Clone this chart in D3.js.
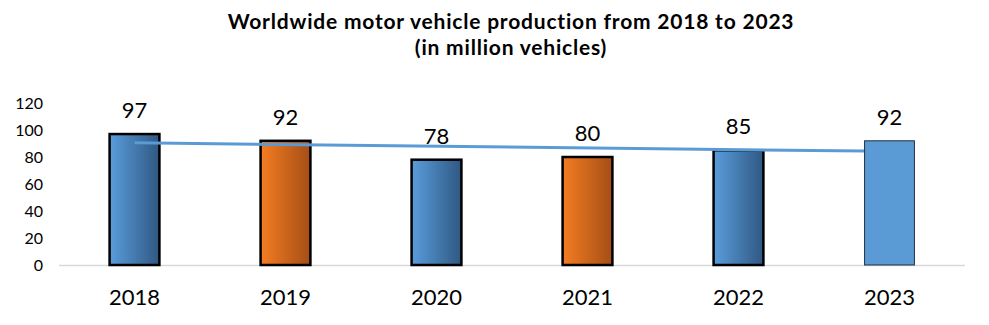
<!DOCTYPE html>
<html><head><meta charset="utf-8">
<script src="https://cdn.jsdelivr.net/npm/d3@7"></script>
<style>body{margin:0;background:#fff}svg{display:block}text{font-family:Lato,"Open Sans",sans-serif}</style>
</head><body><svg id="c" width="989" height="325"></svg>
<script>
const years = ["2018","2019","2020","2021","2022","2023"];
const values = [97, 92, 78, 80, 85, 92];
const styles = ["blue","orange","blue","orange","blue","flat"];
const yTicks = [0,20,40,60,80,100,120];
const trendYears = ["2018","2023"];
const trendValues = [90.5, 84.2];
const titleLines = ["Worldwide motor vehicle production from 2018 to 2023","(in million vehicles)"];

const svg = d3.select("#c");
const x = d3.scaleBand().domain(years).range([59,965]).paddingInner(0.67).paddingOuter(0.335);
const y = d3.scaleLinear().domain([0,120]).range([265,103]);

const defs = svg.append("defs");
function grad(id,c1,c2){
  const g=defs.append("linearGradient").attr("id",id).attr("x1","0").attr("x2","1").attr("y1","0").attr("y2","0");
  g.append("stop").attr("offset","0").attr("stop-color",c1);
  g.append("stop").attr("offset","1").attr("stop-color",c2);
}
grad("gBlue","#5A9DDC","#2F5882");
grad("gOrange","#F57D22","#A44E16");

svg.append("g").attr("text-anchor","middle").selectAll("text").data(titleLines).join("text")
  .attr("x",511).attr("y",(d,i)=>29+i*26).attr("font-size",21).attr("font-weight","bold")
  .attr("letter-spacing",0.8).attr("fill","#000").text(d=>d);

svg.append("g").selectAll("text").data(yTicks).join("text")
  .attr("x",43).attr("y",d=>y(d)+6).attr("text-anchor","end").attr("font-size",16).attr("fill","#000").text(d=>d);

svg.append("line").attr("x1",59).attr("x2",965).attr("y1",y(0)+0.5).attr("y2",y(0)+0.5).attr("stroke","#D9D9D9").attr("stroke-width",1.5);

const data = years.map((d,i)=>({year:d,v:values[i],s:styles[i]}));
const fillOf = s => s==="blue"?"url(#gBlue)":s==="orange"?"url(#gOrange)":"#5B9BD5";

function drawBars(sel){
  sel.append("g").selectAll("rect").data(sel.datum()).join("rect")
    .attr("x",d=>x(d.year)).attr("width",x.bandwidth())
    .attr("y",d=>y(d.v)).attr("height",d=>y(0)-y(d.v))
    .attr("fill",d=>fillOf(d.s))
    .attr("stroke",d=>d.s==="flat"?"#1F2F44":"#000")
    .attr("stroke-width",d=>d.s==="flat"?1:2.5);
}
const g1 = svg.append("g").datum(data.filter(d=>d.s!=="flat"));
drawBars(g1);

svg.append("line")
  .attr("x1",x(trendYears[0])+x.bandwidth()/2).attr("y1",y(trendValues[0]))
  .attr("x2",x(trendYears[1])+x.bandwidth()/2).attr("y2",y(trendValues[1]))
  .attr("stroke","#5B9BD5").attr("stroke-width",3);

const g2 = svg.append("g").datum(data.filter(d=>d.s==="flat"));
drawBars(g2);

svg.append("g").selectAll("text").data(data).join("text")
  .attr("x",d=>x(d.year)+x.bandwidth()/2).attr("y",d=>y(d.v)-16)
  .attr("text-anchor","middle").attr("font-size",22).attr("fill","#000").text(d=>d.v);

svg.append("g").selectAll("text").data(years).join("text")
  .attr("x",d=>x(d)+x.bandwidth()/2).attr("y",305)
  .attr("text-anchor","middle").attr("font-size",22).attr("fill","#000").text(d=>d);
</script></body></html>
